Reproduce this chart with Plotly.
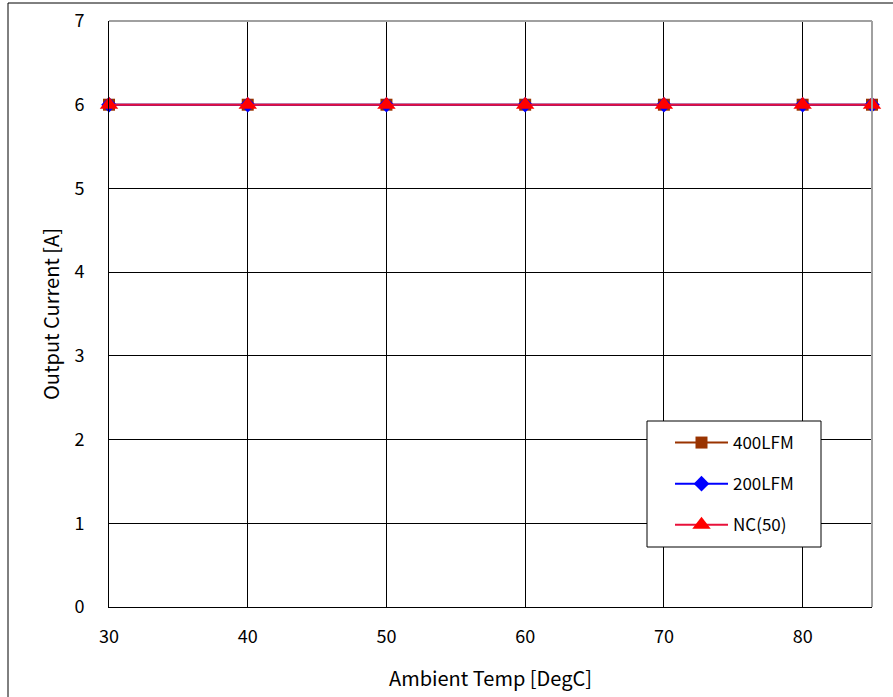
import plotly.graph_objects as go

temps = [30, 40, 50, 60, 70, 80, 85]
i_400lfm = [6, 6, 6, 6, 6, 6, 6]
i_200lfm = [6, 6, 6, 6, 6, 6, 6]
i_nc50 = [6, 6, 6, 6, 6, 6, 6]
x_ticks = [30, 40, 50, 60, 70, 80]
y_ticks = [0, 1, 2, 3, 4, 5, 6, 7]

FONT = "Noto Sans CJK JP"

fig = go.Figure()
fig.add_trace(go.Scatter(x=temps, y=i_400lfm, name="400LFM", legendgroup="a",
                         mode="lines+markers", cliponaxis=False,
                         line=dict(color="#993300", width=2),
                         marker=dict(symbol="square", size=12, color="#993300")))
fig.add_trace(go.Scatter(x=temps, y=i_200lfm, name="200LFM", legendgroup="b",
                         mode="lines+markers", cliponaxis=False,
                         line=dict(color="#0000ff", width=2),
                         marker=dict(symbol="diamond", size=12, color="#0000ff")))
fig.add_trace(go.Scatter(x=temps, y=i_nc50, name="NC(50)", legendgroup="c",
                         mode="lines+markers", cliponaxis=False,
                         line=dict(color="#e8103a", width=2),
                         marker=dict(symbol="triangle-up", size=16, color="#ff0000")))

W, H = 893, 697
L, R, T, B = 109, 21, 21, 90
pw, ph = W - L - R, H - T - B


def px(x):
    return (x - L) / pw


def py(y):
    return (H - B - y) / ph


fig.update_layout(
    width=W, height=H,
    margin=dict(l=L, r=R, t=T, b=B, autoexpand=False),
    paper_bgcolor="white", plot_bgcolor="white",
    font=dict(family=FONT, size=18, color="black"),
    xaxis=dict(range=[30, 85], tickvals=x_ticks, showgrid=True, gridcolor="black",
               gridwidth=1, zeroline=False, showline=True, linecolor="black",
               linewidth=1, ticks="", ticklen=0, automargin=False,
               ticklabelstandoff=13, tickfont=dict(size=18)),
    yaxis=dict(range=[0, 7], tickvals=y_ticks, showgrid=True, gridcolor="black",
               gridwidth=1, zeroline=False, showline=True, linecolor="black",
               linewidth=1, ticks="", ticklen=0, automargin=False,
               ticklabelstandoff=20, tickfont=dict(size=18)),
    legend=dict(x=px(670), y=py(425), xanchor="left", yanchor="top",
                borderwidth=0, bgcolor="rgba(0,0,0,0)",
                font=dict(size=17), itemwidth=53, tracegroupgap=16),
    showlegend=True,
)

fig.add_annotation(text="Ambient Temp [DegC]", xref="paper", yref="paper",
                   x=px(490), y=py(677), showarrow=False,
                   font=dict(size=20), xanchor="center", yanchor="middle")
fig.add_annotation(text="Output Current [A]", xref="paper", yref="paper",
                   x=px(50), y=py(314), showarrow=False, textangle=-90,
                   font=dict(size=20), xanchor="center", yanchor="middle")

# top and right plot borders (gray)
fig.add_shape(type="line", xref="paper", yref="paper", x0=0, x1=1, y0=1, y1=1,
              line=dict(color="#a0a0a0", width=2))
fig.add_shape(type="line", xref="paper", yref="paper", x0=1, x1=1, y0=0, y1=1,
              line=dict(color="#a0a0a0", width=2))
# legend box
fig.add_shape(type="rect", xref="paper", yref="paper",
              x0=px(647), x1=px(821), y0=py(547), y1=py(421),
              line=dict(color="black", width=1), fillcolor="white", layer="above")
# outer frame
fig.add_shape(type="rect", xref="paper", yref="paper",
              x0=px(8), x1=1.2, y0=-0.3, y1=py(3),
              line=dict(color="black", width=1), layer="below")

fig.write_html("out.html", config={"displayModeBar": False},
               post_script="document.body.style.margin='0';document.body.style.overflow='hidden';")
